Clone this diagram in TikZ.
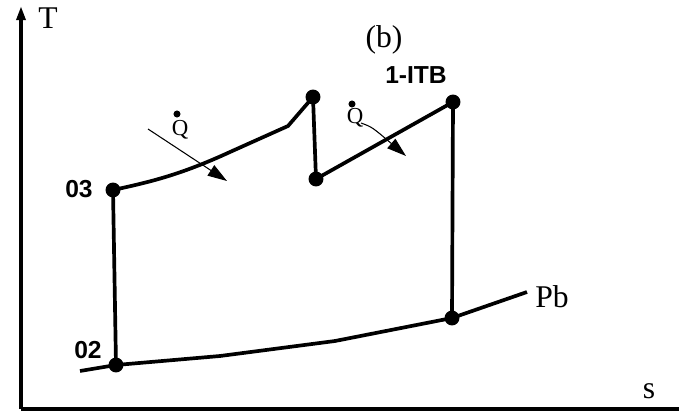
\documentclass[tikz,border=0pt]{standalone}
\usepackage{fontspec}
\setmainfont{Liberation Serif}
\newfontfamily\lsans{Liberation Sans}
\usetikzlibrary{arrows.meta}
\begin{document}
\begin{tikzpicture}[x=0.02cm,y=-0.02cm,
  thickline/.style={line width=2.1pt,line join=round},
  axisline/.style={line width=2pt},
  dotpt/.style={circle,fill=black,inner sep=0pt,minimum size=8.5pt},
  qarrow/.style={line width=0.6pt,-{Triangle[length=11pt,width=7pt]}},
  serlab/.style={font=\fontsize{18}{18}\selectfont},
  sanslab/.style={font=\lsans\bfseries\fontsize{14}{14}\selectfont}]
\useasboundingbox (0,0) rectangle (679,412);
% axes
\coordinate (O) at (21,409);
\coordinate (Ytop) at (21,6);
\coordinate (Xend) at (684,409);
\draw[axisline,-{Triangle[length=8pt,width=5pt]}] (O) -- (Ytop);
\draw[axisline] (O) -- (Xend);
\node[serlab] (T) at (48,18) {T};
\node[serlab] (s) at (649,391) {s};
\node[serlab] (b) at (384,40) {(b)};
% state points
\node[dotpt] (p03) at (113,190) {};
\node[dotpt] (p02) at (116,365) {};
\node[dotpt] (pa) at (313,97) {};
\node[dotpt] (pbb) at (316,179) {};
\node[dotpt] (pc) at (453,102) {};
\node[dotpt] (pd) at (452,318) {};
\coordinate (lstart) at (80,371);
\coordinate (lend) at (527,292);
% labels
\node[sanslab] (l03) at (79,189) {03};
\node[sanslab] (l02) at (88,350) {02};
\node[sanslab] (litb) at (416,75) {1-ITB};
\node[serlab] (lpb) at (552,297) {Pb};
% lines
\draw[thickline] (p03.center) -- (p02.center);
\draw[thickline] (p03.center) .. controls (150,182) and (180,175) .. (230,152) -- (288,126) -- (pa.center);
\draw[thickline] (pa.center) -- (pbb.center);
\draw[thickline] (pbb.center) -- (pc.center);
\draw[thickline] (pc.center) -- (pd.center);
\draw[thickline] (lstart) -- (p02.center) -- (220,356) -- (335,341) -- (pd.center) -- (lend);
% heat arrows
\node[circle,fill=black,inner sep=0pt,minimum size=4pt] (qd1) at (177,114) {};
\node[font=\fontsize{13}{13}\selectfont] (q1) at (180,130) {Q};
\coordinate (a1s) at (148,129);
\coordinate (a1e) at (227,181);
\draw[qarrow] (a1s) -- (a1e);
\node[circle,fill=black,inner sep=0pt,minimum size=4pt] (qd2) at (352,104) {};
\node[font=\fontsize{13}{13}\selectfont] (q2) at (355,118) {Q};
\coordinate (a2s) at (361,123);
\coordinate (a2e) at (406,156);
\draw[qarrow] (a2s) .. controls (372,127) .. (a2e);
\end{tikzpicture}
\end{document}
